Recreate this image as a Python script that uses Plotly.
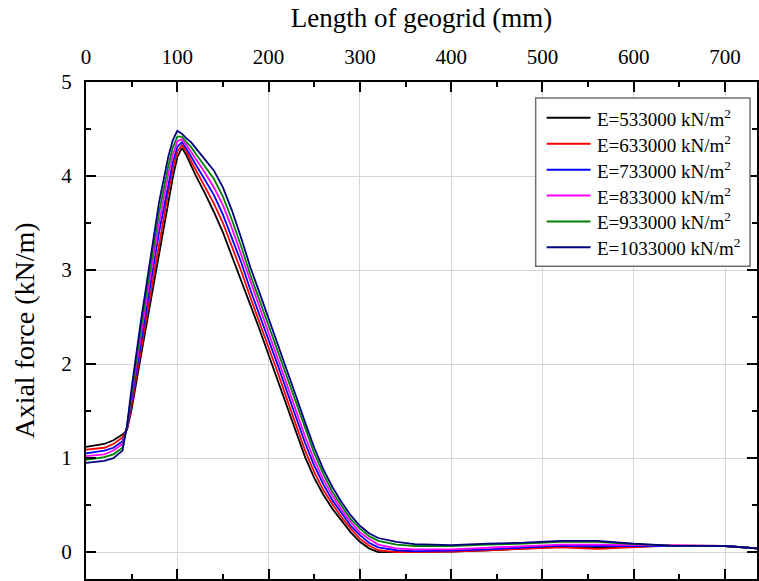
import plotly.graph_objects as go

# Position along the geogrid (mm)
length_mm = [0, 20, 30, 40, 45, 50, 60, 70, 80, 90, 95, 100, 105, 110, 115,
             120, 130, 140, 150, 160, 170, 180, 190, 200, 210, 220, 230, 240,
             250, 260, 270, 280, 290, 300, 310, 320, 340, 360, 400, 440, 480,
             520, 560, 600, 640, 700, 740]

# Axial force (kN/m) for each elastic modulus
force_e533000 = [1.12, 1.15, 1.19, 1.25, 1.30, 1.52, 2.08, 2.62, 3.18, 3.72,
                 3.98, 4.20, 4.30, 4.22, 4.11, 4.01, 3.82, 3.62, 3.40, 3.15,
                 2.90, 2.63, 2.37, 2.10, 1.83, 1.55, 1.27, 1.01, 0.79, 0.61,
                 0.46, 0.33, 0.21, 0.11, 0.04, 0.00, 0.00, 0.00, 0.005, 0.02,
                 0.035, 0.055, 0.045, 0.055, 0.07, 0.065, 0.035]
force_e633000 = [1.09, 1.11, 1.15, 1.22, 1.31, 1.57, 2.15, 2.72, 3.29, 3.82,
                 4.06, 4.26, 4.33, 4.26, 4.16, 4.07, 3.89, 3.71, 3.50, 3.25,
                 2.99, 2.71, 2.45, 2.18, 1.91, 1.63, 1.35, 1.08, 0.85, 0.66,
                 0.51, 0.37, 0.25, 0.14, 0.07, 0.02, 0.00, 0.00, 0.005, 0.02,
                 0.035, 0.05, 0.035, 0.05, 0.07, 0.065, 0.035]
force_e733000 = [1.05, 1.08, 1.11, 1.18, 1.32, 1.61, 2.23, 2.81, 3.40, 3.91,
                 4.14, 4.31, 4.36, 4.29, 4.21, 4.13, 3.96, 3.80, 3.59, 3.34,
                 3.08, 2.79, 2.53, 2.26, 1.99, 1.71, 1.43, 1.16, 0.92, 0.72,
                 0.55, 0.41, 0.28, 0.18, 0.10, 0.05, 0.02, 0.01, 0.015, 0.03,
                 0.05, 0.07, 0.065, 0.065, 0.07, 0.065, 0.035]
force_e833000 = [1.02, 1.04, 1.08, 1.15, 1.33, 1.66, 2.30, 2.91, 3.50, 4.01,
                 4.22, 4.37, 4.39, 4.33, 4.26, 4.18, 4.04, 3.88, 3.69, 3.44,
                 3.16, 2.87, 2.60, 2.33, 2.06, 1.78, 1.50, 1.23, 0.98, 0.77,
                 0.60, 0.45, 0.32, 0.21, 0.14, 0.08, 0.04, 0.03, 0.03, 0.045,
                 0.06, 0.08, 0.08, 0.075, 0.07, 0.065, 0.035]
force_e933000 = [0.98, 1.01, 1.04, 1.11, 1.34, 1.70, 2.38, 3.00, 3.61, 4.10,
                 4.30, 4.42, 4.42, 4.36, 4.31, 4.24, 4.11, 3.97, 3.78, 3.53,
                 3.25, 2.95, 2.68, 2.41, 2.14, 1.86, 1.58, 1.31, 1.05, 0.83,
                 0.64, 0.49, 0.35, 0.25, 0.17, 0.12, 0.08, 0.065, 0.065, 0.08,
                 0.09, 0.11, 0.11, 0.085, 0.07, 0.065, 0.035]
force_e1033000 = [0.95, 0.97, 1.00, 1.08, 1.35, 1.75, 2.45, 3.10, 3.72, 4.20,
                  4.38, 4.48, 4.45, 4.40, 4.36, 4.30, 4.18, 4.06, 3.88, 3.63,
                  3.34, 3.03, 2.76, 2.49, 2.22, 1.94, 1.66, 1.38, 1.11, 0.88,
                  0.69, 0.53, 0.39, 0.28, 0.20, 0.15, 0.11, 0.085, 0.075, 0.09,
                  0.10, 0.12, 0.12, 0.09, 0.07, 0.065, 0.035]

moduli = [533000, 633000, 733000, 833000, 933000, 1033000]
series = [force_e533000, force_e633000, force_e733000,
          force_e833000, force_e933000, force_e1033000]
colors = ["#000000", "#ff0000", "#0000ff", "#ff00ff", "#008000", "#000080"]
labels = [f"E={m} kN/m<sup>2</sup>" for m in moduli]

FONT = "Liberation Serif"
W, H = 759, 581
M_L, M_R, M_T, M_B = 86, 0, 82, 0

fig = go.Figure()
for ys, col, lab in zip(series, colors, labels):
    fig.add_trace(go.Scatter(x=length_mm, y=ys, mode="lines", name=lab,
                             line=dict(color=col, width=1.8), showlegend=False))

axis_common = dict(
    ticks="inside", ticklen=10, tickwidth=2, tickcolor="black",
    showline=True, linewidth=2, linecolor="black", mirror="ticks",
    showgrid=True, gridcolor="#d6d6d6", gridwidth=1, zeroline=False,
    tickfont=dict(family=FONT, size=21, color="black"),
)

fig.update_layout(
    width=W, height=H,
    margin=dict(l=M_L, r=M_R, t=M_T, b=M_B),
    paper_bgcolor="white", plot_bgcolor="white",
    font=dict(family=FONT, color="black"),
    showlegend=False,
    xaxis=dict(
        range=[0, 735], side="top", tick0=0, dtick=100,
        minor=dict(dtick=50, ticks="inside", ticklen=5, tickwidth=2,
                   tickcolor="black", showgrid=False),
        title=dict(text="Length of geogrid (mm)",
                   font=dict(family=FONT, size=27), standoff=9),
        ticklabelstandoff=8,
        **axis_common,
    ),
    yaxis=dict(
        range=[-0.286, 5], tick0=0, dtick=1,
        minor=dict(dtick=0.5, ticks="inside", ticklen=5, tickwidth=2,
                   tickcolor="black", showgrid=False),
        title=dict(text="Axial force (kN/m)",
                   font=dict(family=FONT, size=28), standoff=18),
        ticklabelstandoff=8,
        **axis_common,
    ),
)

# Legend box drawn in paper coordinates
plot_w = W - M_L - M_R
plot_h = H - M_T - M_B


def px_x(px):
    return (px - M_L) / plot_w


def px_y(py):
    return (H - M_B - py) / plot_h


fig.add_shape(type="rect", xref="paper", yref="paper",
              x0=px_x(537), x1=px_x(752), y0=px_y(267), y1=px_y(98),
              line=dict(color="#707070", width=1.5), fillcolor="white",
              layer="above")
row_y = [118, 144, 170, 196, 222, 248]
for ry, col, lab in zip(row_y, colors, labels):
    fig.add_shape(type="line", xref="paper", yref="paper",
                  x0=px_x(548), x1=px_x(592), y0=px_y(ry), y1=px_y(ry),
                  line=dict(color=col, width=2), layer="above")
    fig.add_annotation(xref="paper", yref="paper", x=px_x(597), y=px_y(ry),
                       text=lab, showarrow=False, xanchor="left",
                       yanchor="middle",
                       font=dict(family=FONT, size=19, color="black"))

fig.write_html("out.html")
